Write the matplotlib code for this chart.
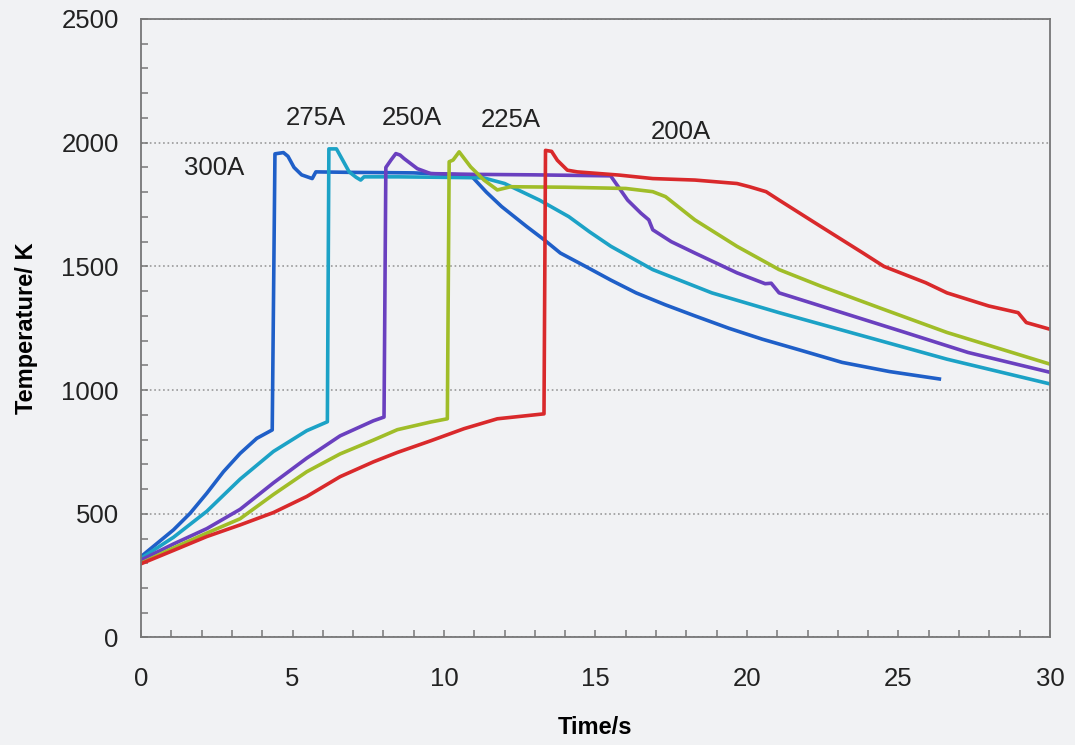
import matplotlib.pyplot as plt
from matplotlib.ticker import MultipleLocator

# 温度-时间曲线数据
t_300 = [0, 1.07, 1.62, 2.17, 2.72, 3.27, 3.82, 4.33, 4.42, 4.7, 4.85, 5.05, 5.3, 5.65, 5.77,
         7.0, 9.0, 10.5, 10.93, 11.4, 11.9, 12.73, 13.3, 13.84, 14.67, 15.5, 16.34, 17.3,
         18.28, 19.4, 20.5, 21.8, 23.14, 24.7, 26.35]
T_300 = [327, 435, 502, 583, 670, 744, 805, 839, 1955, 1960, 1945, 1900, 1870, 1855, 1882,
         1880, 1878, 1870, 1862, 1800, 1742, 1661, 1608, 1554, 1500, 1445, 1393, 1345,
         1300, 1250, 1206, 1160, 1112, 1075, 1045]

t_275 = [0, 1.07, 2.17, 3.27, 4.37, 5.47, 6.15, 6.2, 6.45, 6.87, 7.1, 7.25, 7.36, 8.5, 10.0,
         11.3, 12.0, 12.6, 13.15, 14.12, 14.8, 15.51, 16.89, 18.84, 21.06, 23.83, 26.6, 30]
T_275 = [320, 405, 510, 640, 752, 836, 872, 1975, 1975, 1882, 1860, 1849, 1862, 1862, 1860,
         1858, 1835, 1800, 1768, 1701, 1640, 1581, 1487, 1393, 1313, 1219, 1125, 1025]

t_250 = [0, 1.07, 2.17, 3.27, 4.37, 5.47, 6.57, 7.67, 8.02, 8.08, 8.25, 8.41, 8.55, 8.68,
         9.12, 9.56, 11.0, 13.0, 15.5, 16.06, 16.5, 16.76, 16.89, 17.5, 18.28, 19.67, 20.6,
         20.8, 21.06, 23.14, 25.22, 27.3, 30]
T_250 = [313, 378, 440, 518, 625, 725, 815, 876, 891, 1900, 1930, 1956, 1950, 1936,
         1895, 1875, 1872, 1870, 1866, 1768, 1715, 1688, 1648, 1600, 1554, 1474, 1430,
         1432, 1393, 1313, 1233, 1152, 1072]

t_225 = [0, 1.07, 2.17, 3.27, 4.37, 5.47, 6.57, 7.67, 8.46, 9.56, 10.11, 10.17, 10.3, 10.5,
         10.88, 11.32, 11.76, 12.2, 14.0, 16.0, 16.89, 17.31, 18.28, 19.67, 21.06, 22.44,
         24.52, 26.6, 30]
T_225 = [300, 362, 422, 480, 578, 670, 742, 798, 840, 871, 884, 1923, 1930, 1963,
         1902, 1849, 1809, 1822, 1820, 1815, 1802, 1782, 1688, 1581, 1487, 1420,
         1326, 1233, 1105]

t_200 = [0, 1.07, 2.17, 3.27, 4.37, 5.47, 6.57, 7.67, 8.46, 9.56, 10.66, 11.76, 13.3, 13.35,
         13.55, 13.74, 14.07, 14.4, 15.79, 16.89, 18.28, 19.67, 20.08, 20.63, 21.06, 22.44,
         23.83, 24.52, 25.9, 26.6, 27.98, 28.95, 29.22, 30]
T_200 = [298, 352, 408, 455, 505, 570, 650, 710, 748, 795, 844, 884, 904, 1969,
         1965, 1929, 1889, 1882, 1869, 1855, 1849, 1835, 1822, 1802, 1768, 1661,
         1554, 1500, 1434, 1393, 1340, 1313, 1273, 1246]

labels = ['300A', '275A', '250A', '225A', '200A']
label_t = [2.4, 5.78, 8.94, 12.19, 17.8]
label_T = [1898, 2098, 2100, 2092, 2043]

bg = '#f1f2f4'
plt.rcParams['font.family'] = ['Liberation Sans', 'DejaVu Sans']

fig = plt.figure(figsize=(10.75, 7.45), dpi=100, facecolor=bg)
ax = fig.add_axes([0.1312, 0.1443, 0.8455, 0.8302])
ax.set_facecolor(bg)

lw = 2.6
ax.plot(t_300, T_300, color='#1f5fc8', lw=lw)
ax.plot(t_275, T_275, color='#1ca2c6', lw=lw)
ax.plot(t_250, T_250, color='#6a40bf', lw=lw)
ax.plot(t_225, T_225, color='#a0bd28', lw=lw)
ax.plot(t_200, T_200, color='#d9292b', lw=lw)

for s, x, y in zip(labels, label_t, label_T):
    ax.text(x, y, s, fontsize=18.5, ha='center', va='center', color='#222222')

ax.set_xlim(0, 30)
ax.set_ylim(0, 2500)
ax.xaxis.set_major_locator(MultipleLocator(5))
ax.xaxis.set_minor_locator(MultipleLocator(1))
ax.yaxis.set_major_locator(MultipleLocator(500))
ax.yaxis.set_minor_locator(MultipleLocator(100))
ax.tick_params(which='both', direction='in', length=5, color='#777777', width=1.1,
               labelsize=18.5, labelcolor='#222222')
ax.tick_params(axis='x', which='major', pad=21)
ax.tick_params(axis='y', which='major', pad=16)

ax.grid(axis='y', which='major', linestyle=':', color='#999999', linewidth=1.2)
for sp in ax.spines.values():
    sp.set_color('#777777')
    sp.set_linewidth(1.3)

ax.set_xlabel('Time/s', fontsize=17, fontweight='bold', labelpad=18)
ax.set_ylabel('Temperature/ K', fontsize=17, fontweight='bold', labelpad=17)

fig.savefig('out.png', dpi=100, facecolor=bg)
